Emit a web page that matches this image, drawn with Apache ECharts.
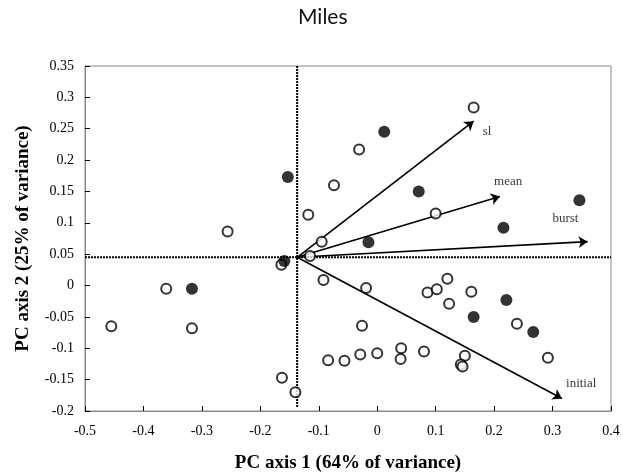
<!DOCTYPE html>
<html>
<head>
<meta charset="utf-8">
<script src="https://cdn.jsdelivr.net/npm/echarts@6/dist/echarts.min.js"></script>
<style>html,body{margin:0;padding:0;background:#fff}#c{width:623px;height:474px}</style>
</head>
<body>
<div id="c"></div>
<script>
var openPoints = [
  [-0.256, 0.086], [-0.118, 0.113], [-0.074, 0.160], [-0.095, 0.070], [0.165, 0.284],
  [-0.031, 0.217], [0.100, 0.115], [-0.115, 0.047], [-0.164, 0.033], [-0.361, -0.005],
  [-0.455, -0.065], [-0.317, -0.068], [-0.092, 0.009], [-0.084, -0.119], [-0.163, -0.147],
  [-0.140, -0.170], [-0.019, -0.004], [-0.026, -0.064], [-0.056, -0.120], [-0.029, -0.110],
  [0.000, -0.108], [0.041, -0.100], [0.040, -0.117], [0.080, -0.105], [0.086, -0.011],
  [0.102, -0.006], [0.120, 0.011], [0.123, -0.029], [0.161, -0.010], [0.239, -0.061],
  [0.292, -0.115], [0.150, -0.112], [0.143, -0.126], [0.146, -0.129]
];
var filledPoints = [
  [-0.153, 0.173], [0.012, 0.245], [0.071, 0.150], [0.346, 0.136], [0.216, 0.092],
  [-0.015, 0.069], [-0.159, 0.039], [-0.317, -0.005], [0.165, -0.050], [0.221, -0.023],
  [0.267, -0.074]
];
var origin = [-0.137, 0.045];
var loadingNames = ['sl', 'mean', 'burst', 'initial'];
var loadingEnds = [[0.165, 0.262], [0.210, 0.142], [0.360, 0.070], [0.316, -0.180]];
var loadingLabelPos = [[0.188, 0.245], [0.224, 0.166], [0.322, 0.107], [0.349, -0.156]];
var xTicks = [-0.5, 0.4, 0.1];
var yTicks = [-0.2, 0.35, 0.05];

var serif = 'Liberation Serif';
var chart = echarts.init(document.getElementById('c'));
chart.setOption({
  animation: false,
  backgroundColor: '#fff',
  title: {
    text: 'Miles', left: 293, top: 2,
    textStyle: { fontFamily: 'Lato', fontWeight: 'normal', fontSize: 21, color: '#111' }
  },
  grid: { left: 85, right: 12, top: 66, bottom: 63, outerBoundsMode: 'none', containLabel: false,
          show: true, borderColor: '#888', borderWidth: 1 },
  xAxis: {
    type: 'value', min: xTicks[0], max: xTicks[1], interval: xTicks[2],
    name: 'PC axis 1 (64% of variance)', nameLocation: 'middle', nameGap: 43,
    nameTextStyle: { fontFamily: serif, fontWeight: 'bold', fontSize: 19, color: '#000' },
    axisLine: { show: true, onZero: false, lineStyle: { color: '#888', width: 1 } },
    axisTick: { show: true, inside: true, length: 5, lineStyle: { color: '#000' } },
    axisLabel: { fontFamily: serif, fontSize: 14, color: '#000', margin: 13 },
    splitLine: { show: false }
  },
  yAxis: {
    type: 'value', min: yTicks[0], max: yTicks[1], interval: yTicks[2],
    name: 'PC axis 2 (25% of variance)', nameLocation: 'middle', nameGap: 52,
    nameTextStyle: { fontFamily: serif, fontWeight: 'bold', fontSize: 19, color: '#000' },
    axisLine: { show: true, onZero: false, lineStyle: { color: '#888', width: 1 } },
    axisTick: { show: true, inside: true, length: 5, lineStyle: { color: '#000' } },
    axisLabel: { fontFamily: serif, fontSize: 14, color: '#000', margin: 11 },
    splitLine: { show: false }
  },
  series: [
    {
      type: 'line', data: [[xTicks[0], origin[1]], [xTicks[1], origin[1]]], symbol: 'none', z: 2,
      lineStyle: { color: '#000', width: 2, type: [2, 1] }
    },
    {
      type: 'line', data: [[origin[0], yTicks[1]], [origin[0], -0.195]], symbol: 'none', z: 2,
      lineStyle: { color: '#000', width: 2, type: [2, 1] }
    },
    {
      type: 'lines', coordinateSystem: 'cartesian2d', z: 3,
      symbol: ['none', 'arrow'], symbolSize: 9,
      lineStyle: { color: '#000', width: 1.6, opacity: 1 },
      data: loadingEnds.map(function (e) { return { coords: [origin, e] }; })
    },
    {
      type: 'scatter', z: 4, symbol: 'circle', symbolSize: 10,
      itemStyle: { color: '#fff', borderColor: '#000', borderWidth: 2 },
      data: openPoints
    },
    {
      type: 'scatter', z: 5, symbol: 'circle', symbolSize: 12,
      itemStyle: { color: '#000' },
      data: filledPoints
    },
    {
      type: 'scatter', z: 6, symbol: 'circle', symbolSize: 1,
      itemStyle: { color: 'rgba(0,0,0,0)' },
      label: {
        show: true, position: 'inside', formatter: function (p) { return p.name; },
        fontFamily: serif, fontSize: 13, color: '#000'
      },
      data: loadingLabelPos.map(function (p, i) { return { name: loadingNames[i], value: p }; })
    }
  ]
});
</script>
</body>
</html>
